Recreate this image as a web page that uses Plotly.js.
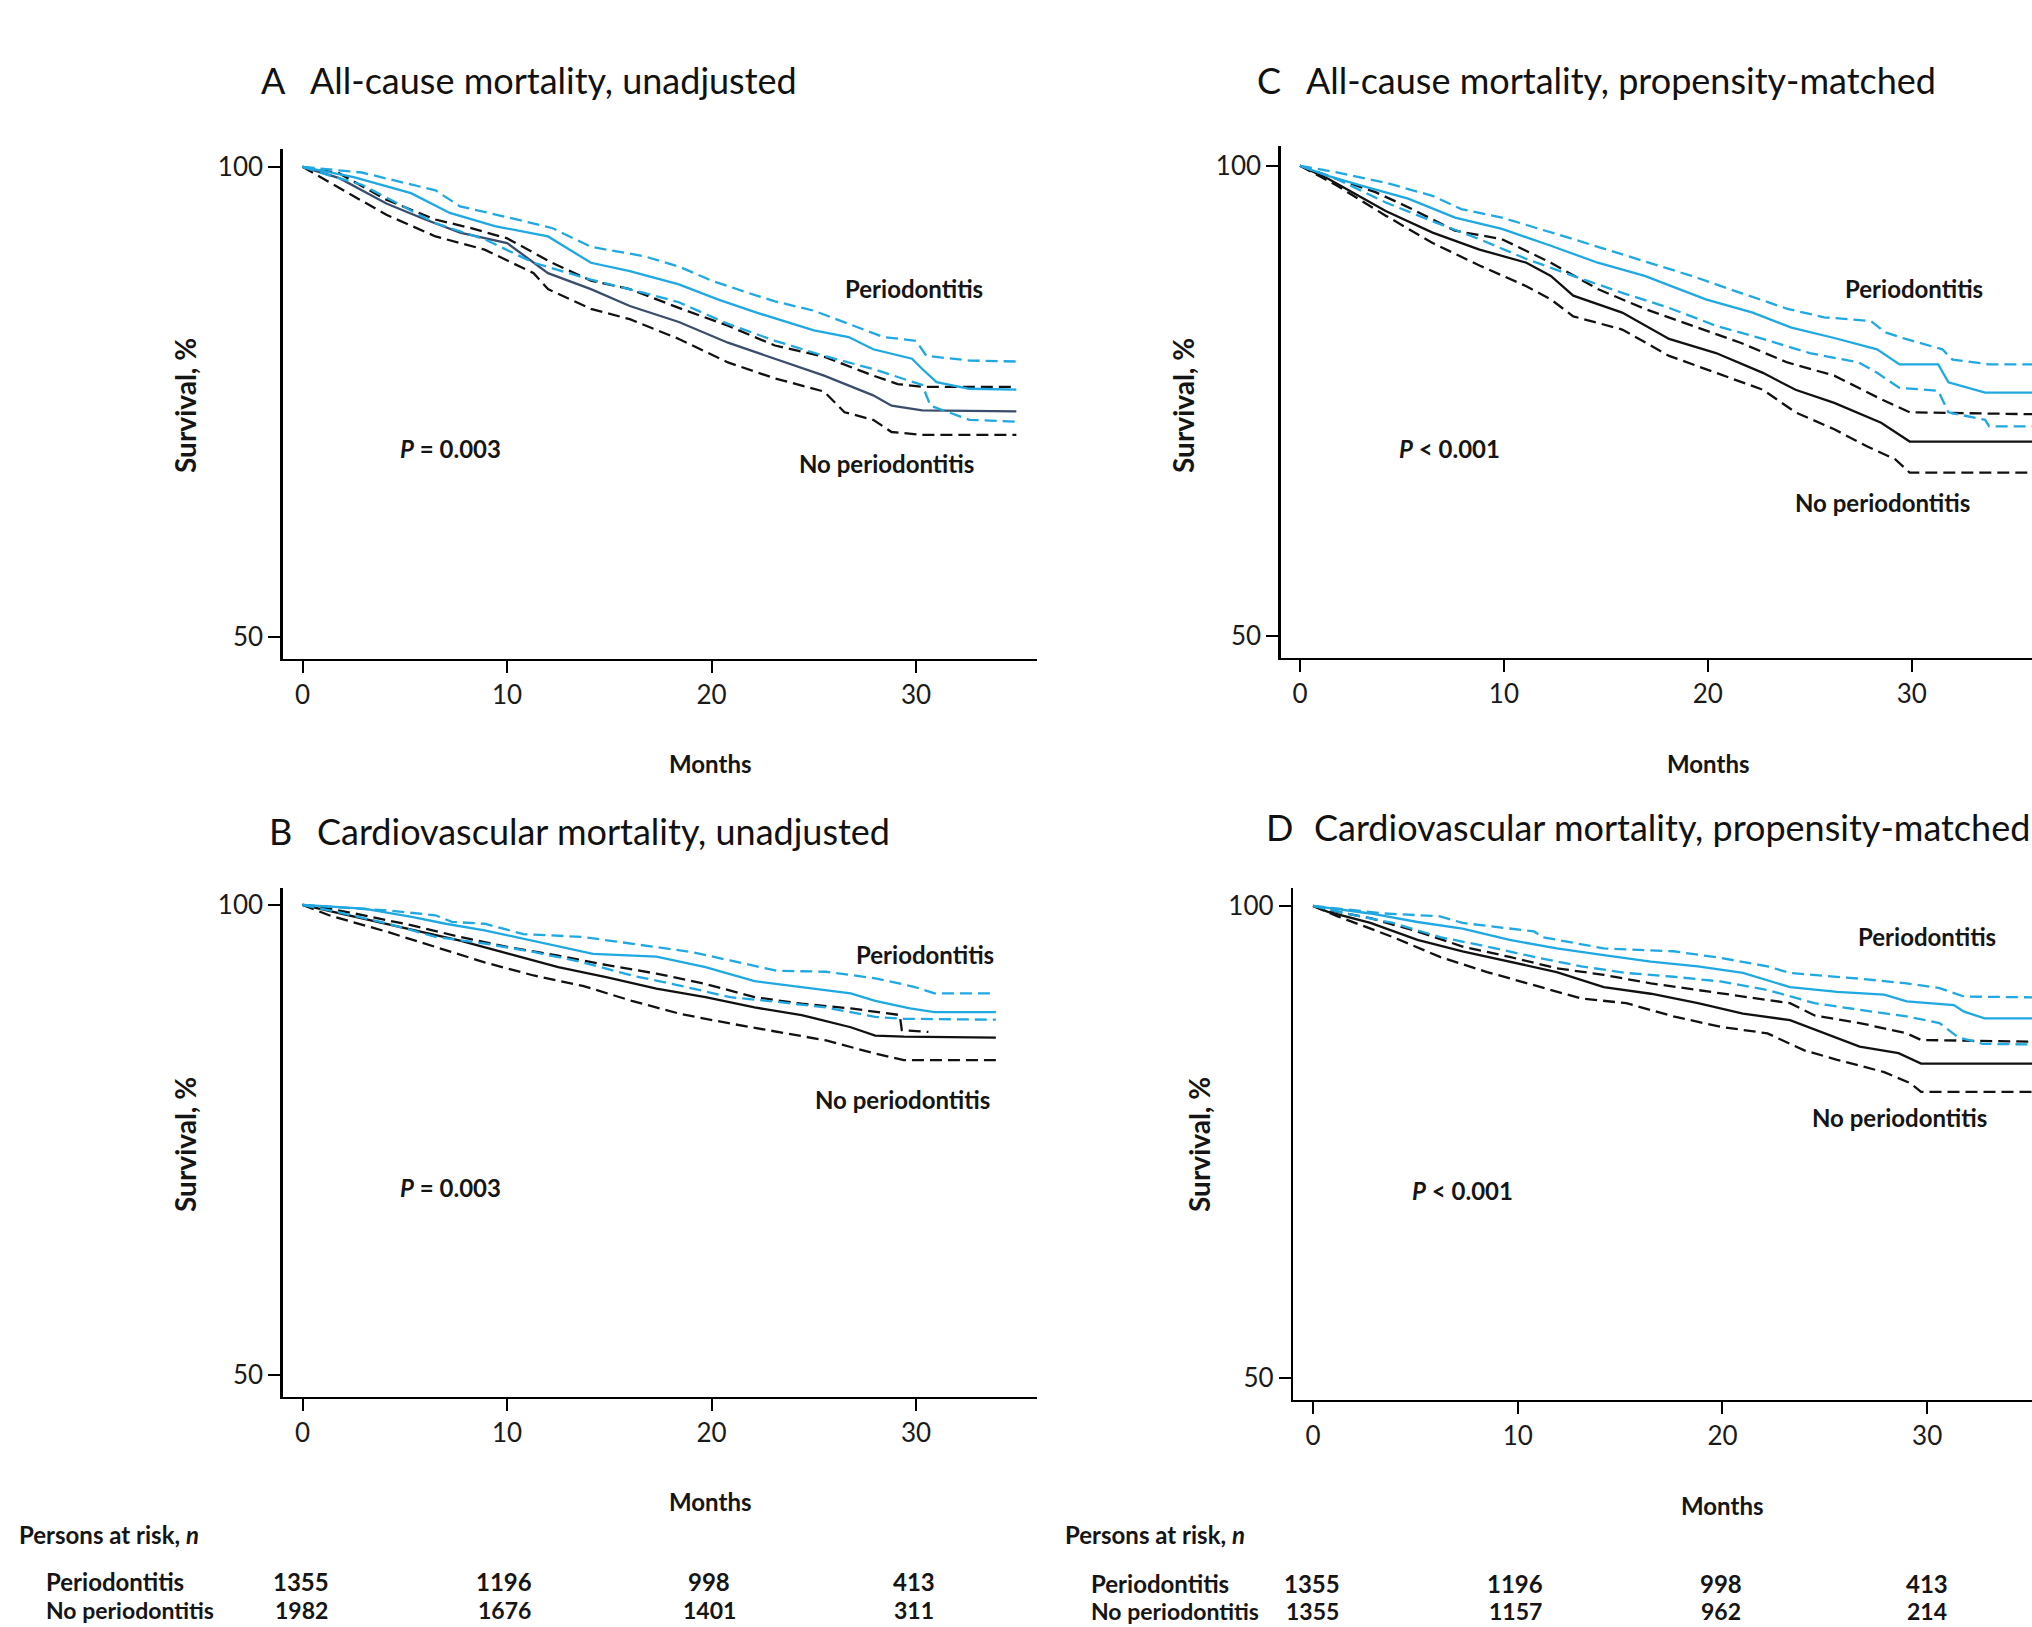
<!DOCTYPE html>
<html>
<head>
<meta charset="utf-8">
<script src="https://cdn.plot.ly/plotly-3.0.1.min.js"></script>
<style>
  html, body { margin: 0; padding: 0; background: #ffffff; }
  #chart { width: 2032px; height: 1627px; }
</style>
</head>
<body>
<div id="chart"></div>
<script>
// ---------------- DATA ----------------
// Panel A: All-cause mortality, unadjusted
const A_perioUpper_m = [0, 2.9, 6.5, 7.7, 10.3, 12.2, 14.1, 16.7, 18.4, 20.0, 22.2, 23.1, 25.0, 26.9, 28.4, 30.0, 30.5, 32.6, 34.9];
const A_perioUpper_s = [100, 99.4, 97.5, 95.8, 94.5, 93.5, 91.5, 90.5, 89.4, 87.9, 86.3, 85.7, 84.7, 83.1, 81.9, 81.5, 79.9, 79.4, 79.3];
const A_perio_m = [0, 2.5, 5.3, 7.2, 9.4, 12.0, 14.1, 16.0, 18.4, 20.3, 22.2, 25.0, 26.7, 27.9, 29.8, 30.3, 31.0, 32.6, 34.9];
const A_perio_s = [100, 98.9, 97.2, 95.1, 93.7, 92.6, 89.8, 88.9, 87.5, 85.9, 84.5, 82.6, 81.9, 80.6, 79.6, 78.5, 77.1, 76.4, 76.3];
const A_perioLower_m = [0, 1.3, 2.9, 6.5, 8.9, 11.3, 14.1, 16.7, 18.4, 20.8, 23.1, 25.5, 27.9, 30.3, 30.7, 32.6, 34.9];
const A_perioLower_s = [100, 99.1, 98.1, 94.0, 92.3, 89.8, 88.0, 86.6, 85.6, 83.3, 81.5, 79.9, 78.5, 76.8, 74.6, 73.1, 72.9];
const A_noUpper_m = [0, 1.8, 4.1, 6.5, 8.2, 10.0, 12.2, 14.1, 16.0, 18.4, 20.8, 23.1, 25.5, 27.9, 29.1, 30.3, 34.9];
const A_noUpper_s = [100, 99.3, 96.5, 94.4, 93.5, 92.4, 89.8, 87.9, 87.0, 85.0, 83.1, 81.0, 79.8, 77.8, 76.9, 76.6, 76.6];
const A_no_m = [0, 1.8, 4.1, 6.0, 7.7, 10.0, 12.0, 14.1, 16.0, 18.4, 20.8, 23.1, 25.5, 27.9, 28.8, 30.3, 34.9];
const A_no_s = [100, 98.8, 96.1, 94.4, 93.0, 91.9, 88.7, 87.0, 85.2, 83.5, 81.3, 79.6, 77.8, 75.7, 74.6, 74.1, 74.0];
const A_noLower_m = [0, 1.3, 4.1, 6.5, 8.9, 11.3, 12.0, 14.1, 16.0, 18.4, 20.8, 23.1, 25.5, 26.5, 27.9, 28.8, 30.3, 34.9];
const A_noLower_s = [100, 98.4, 94.9, 92.6, 91.2, 88.7, 87.0, 84.9, 83.8, 81.7, 79.2, 77.5, 76.1, 73.9, 73.1, 71.8, 71.5, 71.5];

// Panel C: All-cause mortality, propensity-matched
const C_perioUpper_m = [0, 1.8, 4.2, 6.5, 7.9, 9.9, 13.4, 16.5, 19.2, 21.6, 23.9, 25.7, 28.0, 28.7, 29.7, 31.5, 32.0, 33.8, 36];
const C_perioUpper_s = [100, 99.3, 98.2, 96.8, 95.4, 94.5, 92.2, 90.1, 88.3, 86.5, 84.8, 83.9, 83.5, 82.3, 81.6, 80.5, 79.4, 78.9, 78.9];
const C_perio_m = [0, 1.4, 3.0, 5.3, 7.6, 9.9, 12.3, 14.6, 16.9, 19.9, 22.2, 24.1, 26.2, 28.3, 29.4, 31.3, 31.8, 33.6, 36];
const C_perio_s = [100, 98.9, 97.9, 96.5, 94.5, 93.3, 91.5, 89.7, 88.3, 85.8, 84.4, 82.8, 81.7, 80.5, 78.9, 78.9, 77.0, 75.9, 75.9];
const C_perioLower_m = [0, 1.8, 4.2, 6.5, 8.8, 11.1, 13.4, 15.8, 18.1, 20.4, 22.7, 25.0, 27.4, 28.3, 29.4, 31.3, 31.8, 33.6, 33.8, 36];
const C_perioLower_s = [100, 98.6, 96.1, 94.1, 92.2, 90.1, 88.3, 86.5, 84.9, 83.0, 81.6, 80.1, 79.1, 78.0, 76.4, 76.1, 73.8, 73.0, 72.3, 72.3];
const C_noUpper_m = [0, 1.4, 3.7, 5.3, 7.6, 9.9, 12.3, 14.6, 16.9, 19.2, 21.6, 23.9, 26.2, 28.5, 29.9, 36];
const C_noUpper_s = [100, 98.9, 97.2, 95.6, 93.1, 92.2, 89.7, 86.9, 84.8, 83.0, 81.2, 79.1, 77.7, 75.2, 73.8, 73.6];
const C_no_m = [0, 1.4, 4.2, 6.5, 8.8, 11.1, 12.3, 13.4, 15.8, 18.1, 20.4, 22.7, 24.3, 26.2, 28.5, 29.9, 36];
const C_no_s = [100, 98.6, 95.2, 92.9, 91.1, 89.7, 88.3, 86.2, 84.4, 81.6, 80.1, 78.0, 76.2, 74.8, 72.7, 70.7, 70.7];
const C_noLower_m = [0, 1.8, 4.2, 6.5, 8.8, 11.1, 12.3, 13.4, 15.8, 18.1, 20.4, 22.7, 24.3, 26.2, 27.8, 29.2, 29.9, 36];
const C_noLower_s = [100, 97.9, 94.7, 91.8, 89.4, 87.2, 85.8, 84.0, 82.6, 79.8, 78.0, 76.2, 73.8, 72.0, 70.2, 68.8, 67.4, 67.4];

// Panel B: Cardiovascular mortality, unadjusted
const B_perioUpper_m = [0, 4.2, 6.5, 7.3, 8.9, 10.8, 13.7, 16.6, 19.0, 20.9, 23.2, 25.6, 28.0, 29.9, 30.9, 33.9];
const B_perioUpper_s = [100, 99.4, 98.9, 98.2, 98.0, 96.9, 96.6, 95.7, 95.0, 94.1, 93.0, 92.9, 92.2, 91.3, 90.6, 90.6];
const B_perio_m = [0, 3.0, 5.4, 7.0, 8.9, 11.3, 14.2, 17.3, 19.7, 22.1, 24.4, 26.8, 28.0, 29.7, 30.9, 33.9];
const B_perio_s = [100, 99.6, 98.7, 98.0, 97.3, 96.2, 94.8, 94.5, 93.4, 91.9, 91.3, 90.6, 89.8, 89.0, 88.6, 88.6];
const B_perioLower_m = [0, 1.8, 4.2, 6.5, 8.9, 11.3, 13.7, 16.1, 18.5, 20.9, 23.2, 25.6, 26.8, 28.0, 29.4, 33.9];
const B_perioLower_s = [100, 99.2, 98.0, 96.6, 95.9, 95.0, 93.9, 92.5, 91.4, 90.2, 89.7, 89.1, 88.6, 88.1, 87.9, 87.8];
const B_noUpper_m = [0, 0.8, 3.0, 5.4, 7.7, 10.1, 12.5, 14.9, 17.3, 19.7, 22.1, 24.4, 26.8, 29.2, 29.3, 30.6];
const B_noUpper_s = [100, 99.8, 98.9, 97.8, 96.6, 95.5, 94.6, 93.6, 92.7, 91.6, 90.2, 89.5, 89.0, 88.3, 86.7, 86.5];
const B_no_m = [0, 0.8, 3.0, 5.4, 7.7, 10.1, 12.5, 14.9, 17.3, 19.7, 22.1, 24.4, 26.8, 28.0, 29.4, 33.9];
const B_no_s = [100, 99.6, 98.5, 97.3, 96.2, 94.8, 93.4, 92.3, 91.1, 90.2, 89.1, 88.3, 87.0, 86.1, 86.0, 85.9];
const B_noLower_m = [0, 1.3, 4.2, 6.5, 8.9, 11.3, 13.7, 16.1, 18.5, 20.9, 23.2, 25.6, 26.8, 28.0, 29.4, 33.9];
const B_noLower_s = [100, 98.9, 97.1, 95.5, 93.9, 92.5, 91.4, 89.8, 88.4, 87.4, 86.5, 85.6, 84.9, 84.2, 83.5, 83.5];

// Panel D: Cardiovascular mortality, propensity-matched
const D_perioUpper_m = [0, 3.5, 6.2, 7.3, 10.8, 11.2, 14.2, 17.6, 19.9, 22.2, 23.3, 26.7, 29.0, 30.6, 31.8, 36];
const D_perioUpper_s = [100, 99.2, 98.9, 98.2, 97.3, 96.7, 95.5, 95.2, 94.5, 93.6, 92.9, 92.3, 91.8, 91.3, 90.4, 90.3];
const D_perio_m = [0, 2.8, 5.1, 7.3, 9.6, 11.9, 14.2, 16.5, 18.8, 21.0, 23.3, 25.6, 27.9, 29.0, 31.3, 31.8, 32.8, 36];
const D_perio_s = [100, 99.2, 98.3, 97.6, 96.4, 95.5, 94.8, 94.1, 93.6, 92.9, 91.4, 90.9, 90.6, 89.9, 89.5, 88.8, 88.1, 88.1];
const D_perioLower_m = [0, 1.6, 3.9, 6.2, 8.5, 10.8, 13.1, 15.3, 17.6, 19.9, 22.2, 24.5, 26.7, 29.0, 30.6, 31.5, 32.7, 36];
const D_perioLower_s = [100, 99.2, 98.2, 96.7, 95.7, 94.6, 93.6, 92.9, 92.5, 92.0, 91.1, 89.7, 89.0, 88.3, 87.6, 86.1, 85.4, 85.3];
const D_noUpper_m = [0, 0.7, 2.8, 5.1, 7.3, 9.6, 11.9, 14.2, 16.5, 18.8, 21.0, 23.3, 24.5, 26.7, 29.0, 29.7, 36];
const D_noUpper_s = [100, 99.6, 98.7, 97.3, 95.7, 94.6, 93.4, 92.7, 91.8, 91.1, 90.4, 89.7, 88.4, 87.6, 86.5, 85.8, 85.6];
const D_no_m = [0, 0.7, 2.8, 5.1, 7.3, 9.6, 11.9, 14.2, 16.5, 18.8, 21.0, 23.3, 24.5, 26.7, 28.6, 29.7, 36];
const D_no_s = [100, 99.4, 98.2, 96.4, 95.2, 94.1, 93.0, 91.4, 90.7, 89.7, 88.6, 87.9, 86.9, 85.1, 84.4, 83.3, 83.3];
const D_noLower_m = [0, 1.2, 3.9, 6.2, 8.5, 10.8, 13.1, 15.3, 17.6, 19.9, 22.2, 24.0, 25.6, 27.9, 29.2, 29.7, 36];
const D_noLower_s = [100, 98.9, 96.7, 94.6, 93.0, 91.6, 90.2, 89.7, 88.3, 87.2, 86.5, 84.7, 83.7, 82.4, 81.2, 80.3, 80.3];

// Tick labels and texts
const xTicks = [0, 10, 20, 30];
const yTicks = [50, 100];
const panelLetters = ["A", "C", "B", "D"];
const panelTitles = ["All-cause mortality, unadjusted", "All-cause mortality, propensity-matched",
                     "Cardiovascular mortality, unadjusted", "Cardiovascular mortality, propensity-matched"];
const pValues = ["<i>P</i> = 0.003", "<i>P</i> < 0.001", "<i>P</i> = 0.003", "<i>P</i> < 0.001"];
const groupNames = ["Periodontitis", "No periodontitis"];

// Persons at risk
const riskLeftPerio = [1355, 1196, 998, 413];
const riskLeftNo = [1982, 1676, 1401, 311];
const riskRightPerio = [1355, 1196, 998, 413];
const riskRightNo = [1355, 1157, 962, 214];

// ---------------- STYLE / LAYOUT ----------------
const W = 2032, H = 1627;
const FONT = "Lato, 'Open Sans', sans-serif";
const CYAN = "#1FA8E2";
const BLACK = "#111111";
const SLATE = "#3A4D6C";
const DASH = "12px,6px";
const px = x => x / W;
const py = y => 1 - y / H;

function tr(m, s, xa, ya, color, dash) {
  return { x: m, y: s, xaxis: xa, yaxis: ya, type: "scatter", mode: "lines",
           line: { shape: "linear", color: color, width: 2.3, dash: dash || "solid" },
           hoverinfo: "skip", showlegend: false };
}

const data = [
  tr(A_noUpper_m, A_noUpper_s, "x", "y", BLACK, DASH),
  tr(A_noLower_m, A_noLower_s, "x", "y", BLACK, DASH),
  tr(A_no_m, A_no_s, "x", "y", SLATE),
  tr(A_perioUpper_m, A_perioUpper_s, "x", "y", CYAN, DASH),
  tr(A_perioLower_m, A_perioLower_s, "x", "y", CYAN, DASH),
  tr(A_perio_m, A_perio_s, "x", "y", CYAN),

  tr(C_noUpper_m, C_noUpper_s, "x2", "y2", BLACK, DASH),
  tr(C_noLower_m, C_noLower_s, "x2", "y2", BLACK, DASH),
  tr(C_no_m, C_no_s, "x2", "y2", BLACK),
  tr(C_perioUpper_m, C_perioUpper_s, "x2", "y2", CYAN, DASH),
  tr(C_perioLower_m, C_perioLower_s, "x2", "y2", CYAN, DASH),
  tr(C_perio_m, C_perio_s, "x2", "y2", CYAN),

  tr(B_noUpper_m, B_noUpper_s, "x3", "y3", BLACK, DASH),
  tr(B_noLower_m, B_noLower_s, "x3", "y3", BLACK, DASH),
  tr(B_no_m, B_no_s, "x3", "y3", BLACK),
  tr(B_perioUpper_m, B_perioUpper_s, "x3", "y3", CYAN, DASH),
  tr(B_perioLower_m, B_perioLower_s, "x3", "y3", CYAN, DASH),
  tr(B_perio_m, B_perio_s, "x3", "y3", CYAN),

  tr(D_noUpper_m, D_noUpper_s, "x4", "y4", BLACK, DASH),
  tr(D_noLower_m, D_noLower_s, "x4", "y4", BLACK, DASH),
  tr(D_no_m, D_no_s, "x4", "y4", BLACK),
  tr(D_perioUpper_m, D_perioUpper_s, "x4", "y4", CYAN, DASH),
  tr(D_perioLower_m, D_perioLower_s, "x4", "y4", CYAN, DASH),
  tr(D_perio_m, D_perio_s, "x4", "y4", CYAN)
];

function xax(domL, domR, r0, r1, anchor) {
  return { domain: [px(domL), px(domR)], range: [r0, r1], anchor: anchor,
           showline: true, linecolor: "#000", linewidth: 2.2, mirror: false,
           ticks: "outside", ticklen: 12, tickwidth: 2, tickcolor: "#000",
           tickvals: xTicks, ticktext: xTicks.map(String),
           tickfont: { family: FONT, size: 26, color: "#1a1a1a" },
           showgrid: false, zeroline: false, fixedrange: true };
}
function yax(top, bottom, r0, r1, anchor) {
  return { domain: [py(bottom), py(top)], range: [r0, r1], anchor: anchor,
           showline: true, linecolor: "#000", linewidth: 2.2, mirror: false,
           ticks: "outside", ticklen: 12, tickwidth: 2, tickcolor: "#000",
           tickvals: yTicks, ticktext: yTicks.map(String),
           tickfont: { family: FONT, size: 26, color: "#1a1a1a" },
           showgrid: false, zeroline: false, fixedrange: true };
}

const ann = [];
function txt(text, x, y, opts) {
  opts = opts || {};
  ann.push({
    text: text, x: px(x), y: py(y), xref: "paper", yref: "paper",
    xanchor: opts.xanchor || "center", yanchor: "middle", showarrow: false,
    textangle: opts.angle || 0,
    font: { family: FONT, size: opts.size || 24, color: opts.color || "#151515",
            weight: opts.weight || 700 }
  });
}

// Panel titles
const titleLetterPos = [[259, 80], [1255, 80], [267, 831], [1264, 827]];
const titleTextPos = [[308, 80], [1304, 80], [315, 831], [1312, 827]];
for (let i = 0; i < 4; i++) {
  txt(panelLetters[i], titleLetterPos[i][0], titleLetterPos[i][1], { xanchor: "left", size: 36, weight: 400, color: "#111" });
  txt(panelTitles[i], titleTextPos[i][0], titleTextPos[i][1], { xanchor: "left", size: 36, weight: 400, color: "#111" });
}

// Curve labels, P values, axis titles
const perioPos = [[914, 288], [1914, 288], [925, 955], [1927, 936]];
const noPos = [[886, 464], [1882, 502], [902, 1099], [1899, 1117]];
const pPos = [[450, 448], [1449, 448], [450, 1187], [1462, 1190]];
const survPos = [[185, 406], [1183, 406], [185, 1145], [1199, 1145]];
const monthsPos = [[710, 763], [1708, 763], [710, 1501], [1722, 1505]];
for (let i = 0; i < 4; i++) {
  txt(groupNames[0], perioPos[i][0], perioPos[i][1]);
  txt(groupNames[1], noPos[i][0], noPos[i][1]);
  txt(pValues[i], pPos[i][0], pPos[i][1]);
  txt("Survival, %", survPos[i][0], survPos[i][1], { angle: -90, size: 28 });
  txt("Months", monthsPos[i][0], monthsPos[i][1]);
}

// Persons at risk tables
txt("Persons at risk, <i>n</i>", 17, 1534, { xanchor: "left" });
txt(groupNames[0], 44, 1581, { xanchor: "left" });
txt(groupNames[1], 44, 1610, { xanchor: "left", size: 23 });
const leftCols = [301, 504, 709, 914];
for (let i = 0; i < 4; i++) {
  txt(String(riskLeftPerio[i]), leftCols[i], 1581);
  txt(String(riskLeftNo[i]), leftCols[i], 1610, { size: 23 });
}
txt("Persons at risk, <i>n</i>", 1063, 1534, { xanchor: "left" });
txt(groupNames[0], 1089, 1583, { xanchor: "left" });
txt(groupNames[1], 1089, 1611, { xanchor: "left", size: 23 });
const rightCols = [1312, 1515, 1721, 1927];
for (let i = 0; i < 4; i++) {
  txt(String(riskRightPerio[i]), rightCols[i], 1583);
  txt(String(riskRightNo[i]), rightCols[i], 1611, { size: 23 });
}

const layout = {
  width: W, height: H,
  margin: { l: 0, r: 0, t: 0, b: 0, pad: 0 },
  paper_bgcolor: "#ffffff", plot_bgcolor: "rgba(0,0,0,0)",
  showlegend: false,
  font: { family: FONT, color: "#151515" },
  xaxis:  xax(282.5, 1037, -0.98, 35.91, "y"),
  yaxis:  yax(149, 659, 47.66, 101.9, "x"),
  xaxis2: xax(1280.5, 2032, -0.96, 35.9, "y2"),
  yaxis2: yax(146, 658, 47.7, 102.1, "x2"),
  xaxis3: xax(282.5, 1037, -0.98, 35.91, "y3"),
  yaxis3: yax(888, 1397, 47.7, 101.8, "x3"),
  xaxis4: xax(1293, 2032, -0.98, 35.12, "y4"),
  yaxis4: yax(888, 1400, 47.67, 101.9, "x4"),
  annotations: ann
};

Plotly.newPlot("chart", data, layout, { staticPlot: true, displayModeBar: false });
</script>
</body>
</html>
